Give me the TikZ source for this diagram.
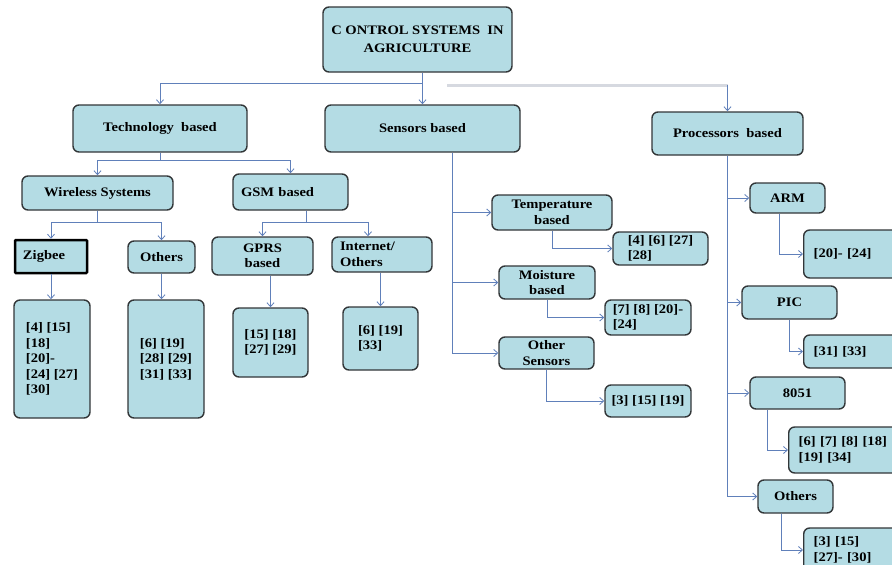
\documentclass[tikz,border=0pt]{standalone}
\usepackage{fontspec}
\setmainfont{Liberation Serif}[FakeStretch=1.12]
\usetikzlibrary{arrows.meta}
\definecolor{boxfill}{RGB}{180,220,228}
\definecolor{linkc}{RGB}{96,128,186}
\definecolor{palec}{RGB}{214,217,224}
\definecolor{edgec}{RGB}{50,54,56}
\tikzset{
  box/.style={draw=edgec, line width=1.4pt, fill=boxfill, rounded corners=6pt, align=center, inner sep=3pt, font=\bfseries\fontsize{13}{15.5}\selectfont},
  refbox/.style={box, align=left},
  zigbox/.style={box, draw=black, line width=2.5pt, rounded corners=0.8pt, align=left},
  arr/.style={draw=linkc, line width=0.8pt, -{Straight Barb[length=4pt,width=7pt]}},
  pale/.style={draw=palec, line width=3pt},
}
\begin{document}
\begin{tikzpicture}[x=1pt,y=-1pt]
\fill[white] (0,0) rectangle (892,565);
\useasboundingbox (0,0) rectangle (892,565);
\clip (0,0) rectangle (892,565);
% top levels
\node[box, minimum width=189pt, minimum height=65pt, font=\bfseries\fontsize{13}{18}\selectfont] (root) at (417.5,39.5) {C ONTROL SYSTEMS\ \ IN\\AGRICULTURE};
\node[box, minimum width=174pt, minimum height=47pt] (tech) at (160,128.5) {Technology\ \ based};
\node[box, minimum width=195pt, minimum height=47pt] (sens) at (422.5,128.5) {Sensors based};
\node[box, minimum width=151pt, minimum height=43pt] (proc) at (727.5,133.5) {Processors\ \ based};
% technology branch
\node[box, minimum width=151pt, minimum height=34pt] (wire) at (97.5,193) {Wireless Systems};
\node[box, align=left, text width=99pt, inner xsep=8pt, minimum height=36pt] (gsm) at (290.5,192) {GSM based};
\node[zigbox, text width=56pt, inner xsep=8pt, minimum height=33pt] (zig) at (51,256.5) {Zigbee};
\node[box, minimum width=67pt, minimum height=32pt] (oth1) at (161.5,257) {Others};
\node[box, minimum width=101pt, minimum height=38pt] (gprs) at (262.5,256) {GPRS\\based};
\node[box, align=left, text width=84pt, inner xsep=8pt, minimum height=35pt] (inet) at (382,254.5) {Internet/\\Others};
\node[refbox, minimum width=76pt, minimum height=118pt] (zigref) at (52,359) {[4] [15]\\{}[18]\\{}[20]-\\{}[24] [27]\\{}[30]};
\node[refbox, minimum width=76pt, minimum height=118pt] (othref) at (166,359) {[6] [19]\\{}[28] [29]\\{}[31] [33]};
\node[refbox, minimum width=75pt, minimum height=69pt] (gprsref) at (270.5,342.5) {[15] [18]\\{}[27] [29]};
\node[refbox, minimum width=75pt, minimum height=63pt] (inetref) at (380.5,338.5) {[6] [19]\\{}[33]};
% sensors branch
\node[box, minimum width=120pt, minimum height=35pt] (temp) at (552,212.5) {Temperature\\based};
\node[refbox, minimum width=95pt, minimum height=33pt] (tempref) at (660.5,248.5) {[4] [6] [27]\\{}[28]};
\node[box, minimum width=96pt, minimum height=33pt] (moist) at (547,282.5) {Moisture\\based};
\node[refbox, minimum width=86pt, minimum height=35pt] (moistref) at (648,317.5) {[7] [8] [20]-\\{}[24]};
\node[box, minimum width=95pt, minimum height=32pt] (osens) at (546.5,353) {Other\\Sensors};
\node[refbox, minimum width=86pt, minimum height=32pt] (osensref) at (648,401) {[3] [15] [19]};
% processors branch
\node[box, minimum width=75pt, minimum height=30pt] (arm) at (787.5,198) {ARM};
\node[refbox, anchor=west, text width=90pt, inner xsep=10pt, minimum height=48pt] (armref) at (803,254) {[20]- [24]};
\node[box, minimum width=95pt, minimum height=33pt] (pic) at (789.5,302.5) {PIC};
\node[refbox, anchor=west, text width=90pt, inner xsep=10pt, minimum height=33pt] (picref) at (803,351.5) {[31] [33]};
\node[box, minimum width=95pt, minimum height=32pt] (e8051) at (797.5,393) {8051};
\node[refbox, anchor=west, text width=100pt, inner xsep=10pt, minimum height=46pt] (e8051ref) at (788,450) {[6] [7] [8] [18]\\{}[19] [34]};
\node[box, minimum width=75pt, minimum height=33pt] (oth2) at (795.5,496.5) {Others};
\node[refbox, anchor=west, text width=90pt, inner xsep=10pt, minimum height=44pt] (oth2ref) at (803,550) {[3] [15]\\{}[27]- [30]};
% connectors
\coordinate (jroot) at (422.5,83);
\coordinate (pa) at (447,85);
\coordinate (pb) at (727.5,85);
\draw[arr] (root.south -| sens.north) -- (sens.north);
\draw[arr] (jroot) -| (tech.north);
\draw[pale] (pa) -- (pb);
\draw[arr] (pb) -- (proc.north);
\draw[arr] (tech.south) -- ++(0,8) -| (wire.north);
\draw[arr] (tech.south) -- ++(0,8) -| (gsm.north);
\draw[arr] (wire.south) -- ++(0,12) -| (zig.north);
\draw[arr] (wire.south) -- ++(0,12) -| (oth1.north);
\draw[arr] ([xshift=16pt]gsm.south) -- ++(0,12) -| (gprs.north);
\draw[arr] ([xshift=16pt]gsm.south) -- ++(0,12) -| ([xshift=-14pt]inet.north);
\draw[arr] (zig.south) -- (zig.south |- zigref.north);
\draw[arr] (oth1.south) -- (oth1.south |- othref.north);
\draw[arr] (gprsref.north |- gprs.south) -- (gprsref.north);
\draw[arr] (inetref.north |- inet.south) -- (inetref.north);
\coordinate (sv) at ([xshift=30pt]sens.south);
\draw[arr] (sv) |- (temp.west);
\draw[arr] (sv) |- (moist.west);
\draw[arr] (sv) |- (osens.west);
\draw[arr] (temp.south) |- (tempref.west);
\draw[arr] (moist.south) |- (moistref.west);
\draw[arr] (osens.south) |- (osensref.west);
\draw[arr] (proc.south) |- (arm.west);
\draw[arr] (proc.south) |- (pic.west);
\draw[arr] (proc.south) |- (e8051.west);
\draw[arr] (proc.south) |- (oth2.west);
\draw[arr] ([xshift=-8pt]arm.south) |- (armref.west);
\draw[arr] (pic.south) |- (picref.west);
\draw[arr] ([xshift=-30pt]e8051.south) |- (e8051ref.west);
\draw[arr] ([xshift=-14pt]oth2.south) |- (oth2ref.west);
\end{tikzpicture}
\end{document}
